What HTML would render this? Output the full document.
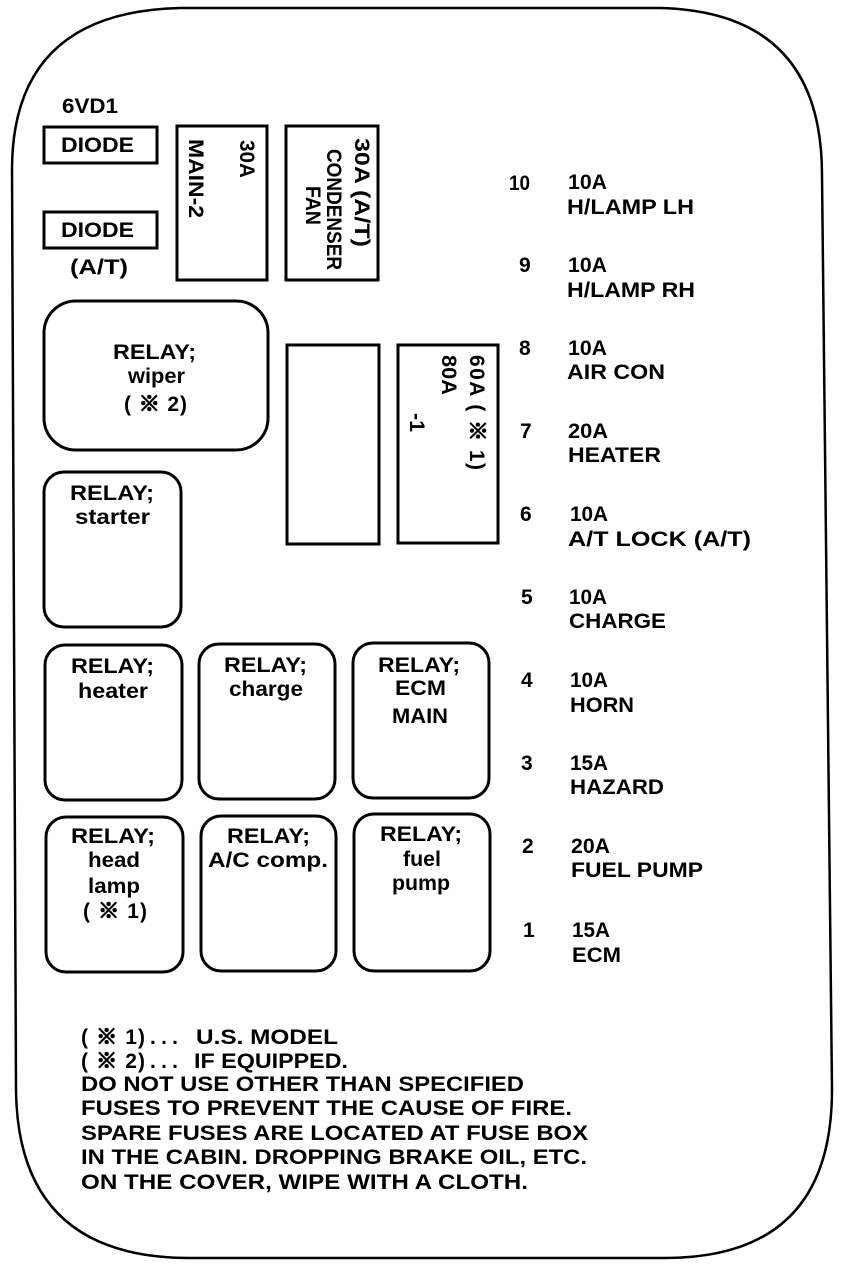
<!DOCTYPE html>
<html><head><meta charset="utf-8"><style>
html,body{margin:0;padding:0;background:#fff}
svg{display:block}
text{font-family:"Liberation Sans","Noto Sans CJK JP",sans-serif;font-size:21px;fill:#000;font-weight:bold;stroke:none}
tspan.k{stroke:#000;stroke-width:1.2}
rect,path{fill:none;stroke:#000;stroke-width:3}
</style></head><body>
<svg width="864" height="1266" viewBox="0 0 864 1266" xmlns="http://www.w3.org/2000/svg">
<path d="M180 8 L660 8 Q822 12 822 175 L832 1090 Q832 1258 665 1258 L190 1258 Q18 1258 16 1090 L12 170 Q12 12 180 8 Z" style="stroke-width:2.5"/>
<rect x="44" y="127" width="113" height="36"/>
<rect x="44" y="212" width="113" height="36"/>
<rect x="177" y="126" width="90" height="154"/>
<rect x="286" y="126" width="92" height="154"/>
<rect x="44" y="301" width="224" height="149" rx="32"/>
<rect x="287" y="345" width="92" height="199"/>
<rect x="398" y="345" width="100" height="198"/>
<rect x="44" y="472" width="137" height="155" rx="20"/>
<rect x="45" y="645" width="137" height="155" rx="20"/>
<rect x="199" y="644" width="136" height="155" rx="20"/>
<rect x="353" y="643" width="136" height="155" rx="20"/>
<rect x="46" y="817" width="137" height="155" rx="20"/>
<rect x="201" y="816" width="135" height="155" rx="20"/>
<rect x="354" y="814" width="136" height="157" rx="20"/>

<text lengthAdjust="spacingAndGlyphs" x="62" y="113" textLength="56">6VD1</text>
<text lengthAdjust="spacingAndGlyphs" x="61" y="152" textLength="73">DIODE</text>
<text lengthAdjust="spacingAndGlyphs" x="61" y="237" textLength="73">DIODE</text>
<text lengthAdjust="spacingAndGlyphs" x="70" y="274" textLength="58">(A/T)</text>

<text lengthAdjust="spacingAndGlyphs" x="113" y="359" textLength="83">RELAY;</text>
<text lengthAdjust="spacingAndGlyphs" x="128" y="383" textLength="57">wiper</text>
<text x="124" y="411" textLength="63">( <tspan class="k">※</tspan> 2)</text>
<text lengthAdjust="spacingAndGlyphs" x="70" y="500" textLength="84">RELAY;</text>
<text lengthAdjust="spacingAndGlyphs" x="75" y="524" textLength="75">starter</text>
<text lengthAdjust="spacingAndGlyphs" x="71" y="673" textLength="83">RELAY;</text>
<text lengthAdjust="spacingAndGlyphs" x="78" y="698" textLength="70">heater</text>
<text lengthAdjust="spacingAndGlyphs" x="224" y="672" textLength="83">RELAY;</text>
<text lengthAdjust="spacingAndGlyphs" x="229" y="696" textLength="74">charge</text>
<text lengthAdjust="spacingAndGlyphs" x="378" y="672" textLength="82">RELAY;</text>
<text lengthAdjust="spacingAndGlyphs" x="395" y="695" textLength="51">ECM</text>
<text lengthAdjust="spacingAndGlyphs" x="392" y="723" textLength="56">MAIN</text>
<text lengthAdjust="spacingAndGlyphs" x="71" y="843" textLength="84">RELAY;</text>
<text lengthAdjust="spacingAndGlyphs" x="88" y="867" textLength="52">head</text>
<text lengthAdjust="spacingAndGlyphs" x="88" y="893" textLength="52">lamp</text>
<text x="83" y="918" textLength="64">( <tspan class="k">※</tspan> 1)</text>
<text lengthAdjust="spacingAndGlyphs" x="227" y="843" textLength="83">RELAY;</text>
<text lengthAdjust="spacingAndGlyphs" x="208" y="867" textLength="120">A/C comp.</text>
<text lengthAdjust="spacingAndGlyphs" x="380" y="841" textLength="82">RELAY;</text>
<text lengthAdjust="spacingAndGlyphs" x="403" y="866" textLength="38">fuel</text>
<text lengthAdjust="spacingAndGlyphs" x="392" y="890" textLength="58">pump</text>

<text lengthAdjust="spacingAndGlyphs" transform="translate(240,140) rotate(90)" textLength="38">30A</text>
<text lengthAdjust="spacingAndGlyphs" transform="translate(189,139) rotate(90)" textLength="79">MAIN-2</text>
<text lengthAdjust="spacingAndGlyphs" transform="translate(355,138) rotate(90)" textLength="109">30A (A/T)</text>
<text lengthAdjust="spacingAndGlyphs" transform="translate(327,149) rotate(90)" textLength="121">CONDENSER</text>
<text lengthAdjust="spacingAndGlyphs" transform="translate(306,186) rotate(90)" textLength="39">FAN</text>
<text transform="translate(470,355) rotate(90)" textLength="115">60A ( <tspan class="k">※</tspan> 1)</text>
<text lengthAdjust="spacingAndGlyphs" transform="translate(442,355) rotate(90)" textLength="40">80A</text>
<text lengthAdjust="spacingAndGlyphs" transform="translate(410,413) rotate(90)" textLength="19">-1</text>

<text lengthAdjust="spacingAndGlyphs" x="509" y="190" textLength="21">10</text>
<text x="519" y="272">9</text>
<text x="519" y="355">8</text>
<text x="520" y="438">7</text>
<text x="520" y="521">6</text>
<text x="521" y="604">5</text>
<text x="521" y="687">4</text>
<text x="521" y="770">3</text>
<text x="522" y="853">2</text>
<text x="523" y="937">1</text>

<text lengthAdjust="spacingAndGlyphs" x="568" y="189" textLength="39">10A</text><text lengthAdjust="spacingAndGlyphs" x="567" y="214" textLength="127">H/LAMP LH</text>
<text lengthAdjust="spacingAndGlyphs" x="568" y="272" textLength="39">10A</text><text lengthAdjust="spacingAndGlyphs" x="567" y="297" textLength="128">H/LAMP RH</text>
<text lengthAdjust="spacingAndGlyphs" x="568" y="355" textLength="39">10A</text><text lengthAdjust="spacingAndGlyphs" x="567" y="379" textLength="98">AIR CON</text>
<text lengthAdjust="spacingAndGlyphs" x="568" y="438" textLength="40">20A</text><text lengthAdjust="spacingAndGlyphs" x="568" y="462" textLength="93">HEATER</text>
<text lengthAdjust="spacingAndGlyphs" x="570" y="521" textLength="38">10A</text><text lengthAdjust="spacingAndGlyphs" x="568" y="546" textLength="183">A/T LOCK (A/T)</text>
<text lengthAdjust="spacingAndGlyphs" x="569" y="604" textLength="38">10A</text><text lengthAdjust="spacingAndGlyphs" x="569" y="628" textLength="97">CHARGE</text>
<text lengthAdjust="spacingAndGlyphs" x="570" y="687" textLength="38">10A</text><text lengthAdjust="spacingAndGlyphs" x="570" y="712" textLength="64">HORN</text>
<text lengthAdjust="spacingAndGlyphs" x="570" y="770" textLength="38">15A</text><text lengthAdjust="spacingAndGlyphs" x="570" y="794" textLength="94">HAZARD</text>
<text lengthAdjust="spacingAndGlyphs" x="571" y="853" textLength="39">20A</text><text lengthAdjust="spacingAndGlyphs" x="571" y="877" textLength="132">FUEL PUMP</text>
<text lengthAdjust="spacingAndGlyphs" x="572" y="937" textLength="38">15A</text><text lengthAdjust="spacingAndGlyphs" x="572" y="962" textLength="49">ECM</text>

<text x="81" y="1044" textLength="64">( <tspan class="k">※</tspan> 1)</text><text x="150" y="1044" textLength="28">. . .</text><text lengthAdjust="spacingAndGlyphs" x="196" y="1044" textLength="142">U.S. MODEL</text>
<text x="81" y="1068" textLength="64">( <tspan class="k">※</tspan> 2)</text><text x="150" y="1068" textLength="28">. . .</text><text lengthAdjust="spacingAndGlyphs" x="194" y="1068" textLength="154">IF EQUIPPED.</text>
<text lengthAdjust="spacingAndGlyphs" x="81" y="1091" textLength="443">DO NOT USE OTHER THAN SPECIFIED</text>
<text lengthAdjust="spacingAndGlyphs" x="81" y="1115" textLength="491">FUSES TO PREVENT THE CAUSE OF FIRE.</text>
<text lengthAdjust="spacingAndGlyphs" x="81" y="1140" textLength="507">SPARE FUSES ARE LOCATED AT FUSE BOX</text>
<text lengthAdjust="spacingAndGlyphs" x="81" y="1164" textLength="506">IN THE CABIN. DROPPING BRAKE OIL, ETC.</text>
<text lengthAdjust="spacingAndGlyphs" x="81" y="1189" textLength="447">ON THE COVER, WIPE WITH A CLOTH.</text>
</svg>
</body></html>
